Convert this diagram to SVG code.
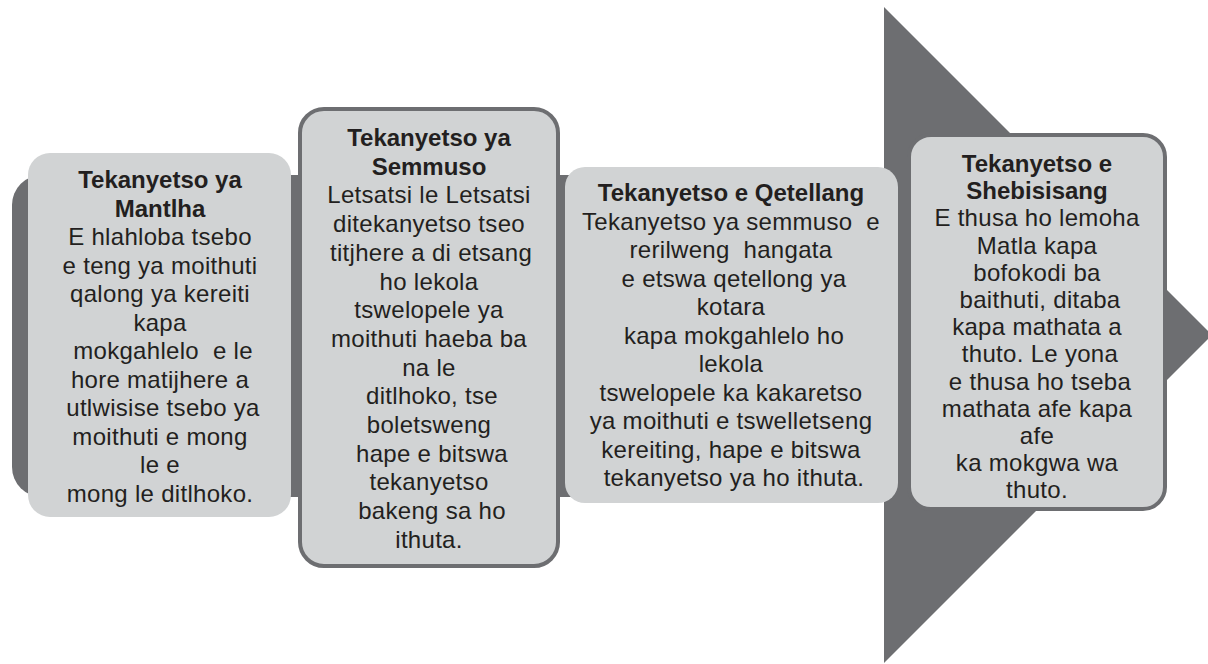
<svg xmlns="http://www.w3.org/2000/svg" width="1208" height="664" viewBox="0 0 1208 664">
  <style>
    .shape { fill: #6d6e71; }
    .box { fill: #d1d3d4; }
    .boxb { fill: #d1d3d4; stroke: #6d6e71; stroke-width: 4; }
    text { font-family: "Liberation Sans", Arial, sans-serif; font-size: 24px; fill: #231f20; text-anchor: middle; }
    .t { font-weight: bold; }
    .b { letter-spacing: 0.3px; }
  </style>
  <rect width="1208" height="664" fill="#ffffff"/>
  <g id="arrow">
    <rect class="shape" x="12" y="175" width="900" height="322" rx="30" ry="30"/>
    <polygon class="shape" points="884,7 1212,335 884,663"/>
  </g>
  <g id="connectors"></g>
  <g id="node-mantlha">
    <rect class="box" x="28" y="153" width="263" height="364" rx="22" ry="22"/>
    <text class="t" x="160" y="188">Tekanyetso ya</text>
    <text class="t" x="160" y="216.5">Mantlha</text>
    <text class="b" x="160" y="245">E hlahloba tsebo</text>
    <text class="b" x="160" y="273.5">e teng ya moithuti</text>
    <text class="b" x="160" y="302">qalong ya kereiti</text>
    <text class="b" x="160" y="330.5">kapa</text>
    <text class="b" x="163" y="359" xml:space="preserve">mokgahlelo  e le</text>
    <text class="b" x="160" y="387.5">hore matijhere a</text>
    <text class="b" x="163" y="416">utlwisise tsebo ya</text>
    <text class="b" x="160" y="444.5">moithuti e mong</text>
    <text class="b" x="160" y="473">le e</text>
    <text class="b" x="160" y="501.5">mong le ditlhoko.</text>
  </g>
  <g id="node-semmuso">
    <rect class="boxb" x="300" y="109" width="258" height="457" rx="24" ry="24"/>
    <text class="t" x="429" y="146">Tekanyetso ya</text>
    <text class="t" x="429" y="174.7">Semmuso</text>
    <text class="b" x="429" y="203.4">Letsatsi le Letsatsi</text>
    <text class="b" x="429" y="232.1">ditekanyetso tseo</text>
    <text class="b" x="431" y="260.8">titjhere a di etsang</text>
    <text class="b" x="429" y="289.5">ho lekola</text>
    <text class="b" x="429" y="318.2">tswelopele ya</text>
    <text class="b" x="429" y="346.9">moithuti haeba ba</text>
    <text class="b" x="429" y="375.6">na le</text>
    <text class="b" x="432" y="404.3">ditlhoko, tse</text>
    <text class="b" x="429" y="433">boletsweng</text>
    <text class="b" x="432" y="461.7">hape e bitswa</text>
    <text class="b" x="429" y="490.4">tekanyetso</text>
    <text class="b" x="432" y="519.1">bakeng sa ho</text>
    <text class="b" x="429" y="547.8">ithuta.</text>
  </g>
  <g id="node-qetellang">
    <rect class="box" x="565" y="167" width="333" height="336" rx="20" ry="20"/>
    <text class="t" x="731" y="201">Tekanyetso e Qetellang</text>
    <text class="b" x="731" y="229.5" xml:space="preserve">Tekanyetso ya semmuso  e</text>
    <text class="b" x="731" y="258" xml:space="preserve">rerilweng  hangata</text>
    <text class="b" x="734" y="286.5">e etswa qetellong ya</text>
    <text class="b" x="731" y="315">kotara</text>
    <text class="b" x="734" y="343.5">kapa mokgahlelo ho</text>
    <text class="b" x="731" y="372">lekola</text>
    <text class="b" x="731" y="400.5">tswelopele ka kakaretso</text>
    <text class="b" x="731" y="429">ya moithuti e tswelletseng</text>
    <text class="b" x="731" y="457.5">kereiting, hape e bitswa</text>
    <text class="b" x="734" y="486">tekanyetso ya ho ithuta.</text>
  </g>
  <g id="node-shebisisang">
    <rect class="boxb" x="909" y="135" width="256" height="374" rx="22" ry="22"/>
    <text class="t" x="1037" y="172">Tekanyetso e</text>
    <text class="t" x="1037" y="199.2">Shebisisang</text>
    <text class="b" x="1037" y="226.4">E thusa ho lemoha</text>
    <text class="b" x="1037" y="253.6">Matla kapa</text>
    <text class="b" x="1037" y="280.8">bofokodi ba</text>
    <text class="b" x="1040" y="308">baithuti, ditaba</text>
    <text class="b" x="1037" y="335.2">kapa mathata a</text>
    <text class="b" x="1040" y="362.4">thuto. Le yona</text>
    <text class="b" x="1040" y="389.6">e thusa ho tseba</text>
    <text class="b" x="1037" y="416.8">mathata afe kapa</text>
    <text class="b" x="1037" y="444">afe</text>
    <text class="b" x="1037" y="471.2">ka mokgwa wa</text>
    <text class="b" x="1037" y="498.4">thuto.</text>
  </g>
</svg>
